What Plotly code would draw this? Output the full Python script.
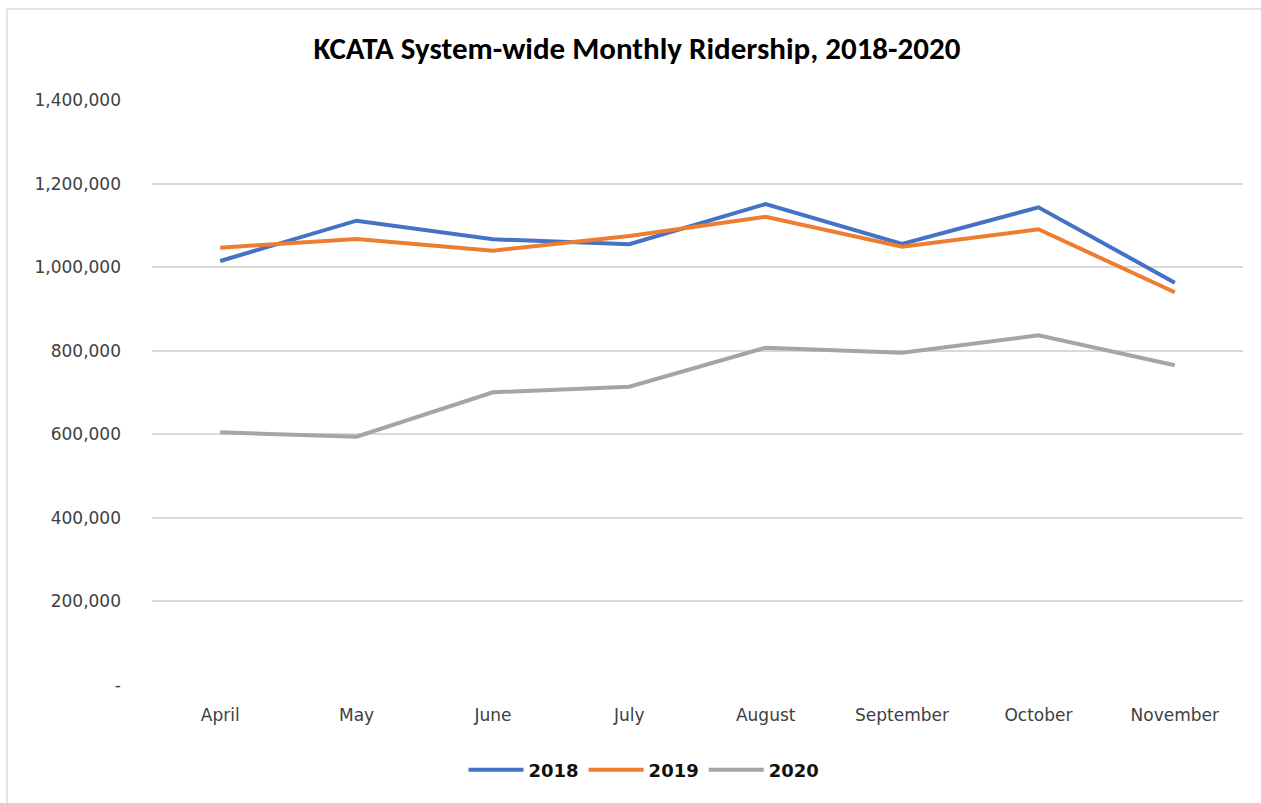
import plotly.graph_objects as go

months = ["April", "May", "June", "July", "August", "September", "October", "November"]
r2018 = [1014700, 1111200, 1066600, 1054700, 1151100, 1055400, 1143200, 962800]
r2019 = [1046600, 1067600, 1039400, 1074500, 1120700, 1049000, 1090600, 939800]
r2020 = [604800, 594200, 700500, 713900, 807200, 795300, 836900, 765100]
y_ticks = [0, 200000, 400000, 600000, 800000, 1000000, 1200000, 1400000]
y_labels = ["-", "200,000", "400,000", "600,000", "800,000", "1,000,000", "1,200,000", "1,400,000"]

series = [("2018", r2018, "#4472C4"), ("2019", r2019, "#ED7D31"), ("2020", r2020, "#A5A5A5")]

fig = go.Figure()
for name, vals, col in series:
    fig.add_trace(go.Scatter(x=months, y=vals, name=name, mode="lines",
                             line=dict(color=col, width=4)))

L, R, T, B = 152, 18, 100, 118
W, H = 1261, 803
pw, ph = W - L - R, H - T - B

tick_font = dict(size=17, color="#404040", family="DejaVu Sans, Verdana, sans-serif")

fig.update_layout(
    width=W, height=H,
    margin=dict(l=L, r=R, t=T, b=B),
    paper_bgcolor="white", plot_bgcolor="white",
    font=dict(family="DejaVu Sans, sans-serif", color="#595959", size=17),
    title=dict(text="<b>KCATA System-wide Monthly Ridership, 2018-2020</b>",
               x=637 / W, xanchor="center", y=1 - 48 / H, yanchor="middle",
               font=dict(size=31, color="#000000", family="Carlito, Calibri, 'Open Sans', sans-serif")),
    xaxis=dict(type="category", range=[-0.5, 7.5], showgrid=False, showline=False,
               ticks="", tickfont=tick_font, ticklabelstandoff=18),
    yaxis=dict(range=[0, 1400000], tickvals=y_ticks, ticktext=y_labels,
               showgrid=True, gridcolor="#D9D9D9", gridwidth=1.5, zeroline=False,
               showline=False, ticks="", tickfont=tick_font,
               ticklabelstandoff=30),
    legend=dict(orientation="h", x=(644 - L) / pw, xanchor="center",
                xref="paper", y=-(770 - (T + ph)) / ph, yanchor="middle",
                font=dict(size=18, color="#111111", family="DejaVu Sans, sans-serif", weight="bold"),
                itemwidth=55, tracegroupgap=0),
    showlegend=True,
)

# outer chart border (top and left visible)
fig.add_shape(type="line", xref="paper", yref="paper",
              x0=(7 - L) / pw, x1=(W - L) / pw, y0=1 + (T - 9) / ph, y1=1 + (T - 9) / ph,
              line=dict(color="#D9D9D9", width=1.5))
fig.add_shape(type="line", xref="paper", yref="paper",
              x0=(7 - L) / pw, x1=(7 - L) / pw, y0=1 + (T - 9) / ph, y1=-(B) / ph,
              line=dict(color="#D9D9D9", width=1.5))

fig.write_html("out.html")
